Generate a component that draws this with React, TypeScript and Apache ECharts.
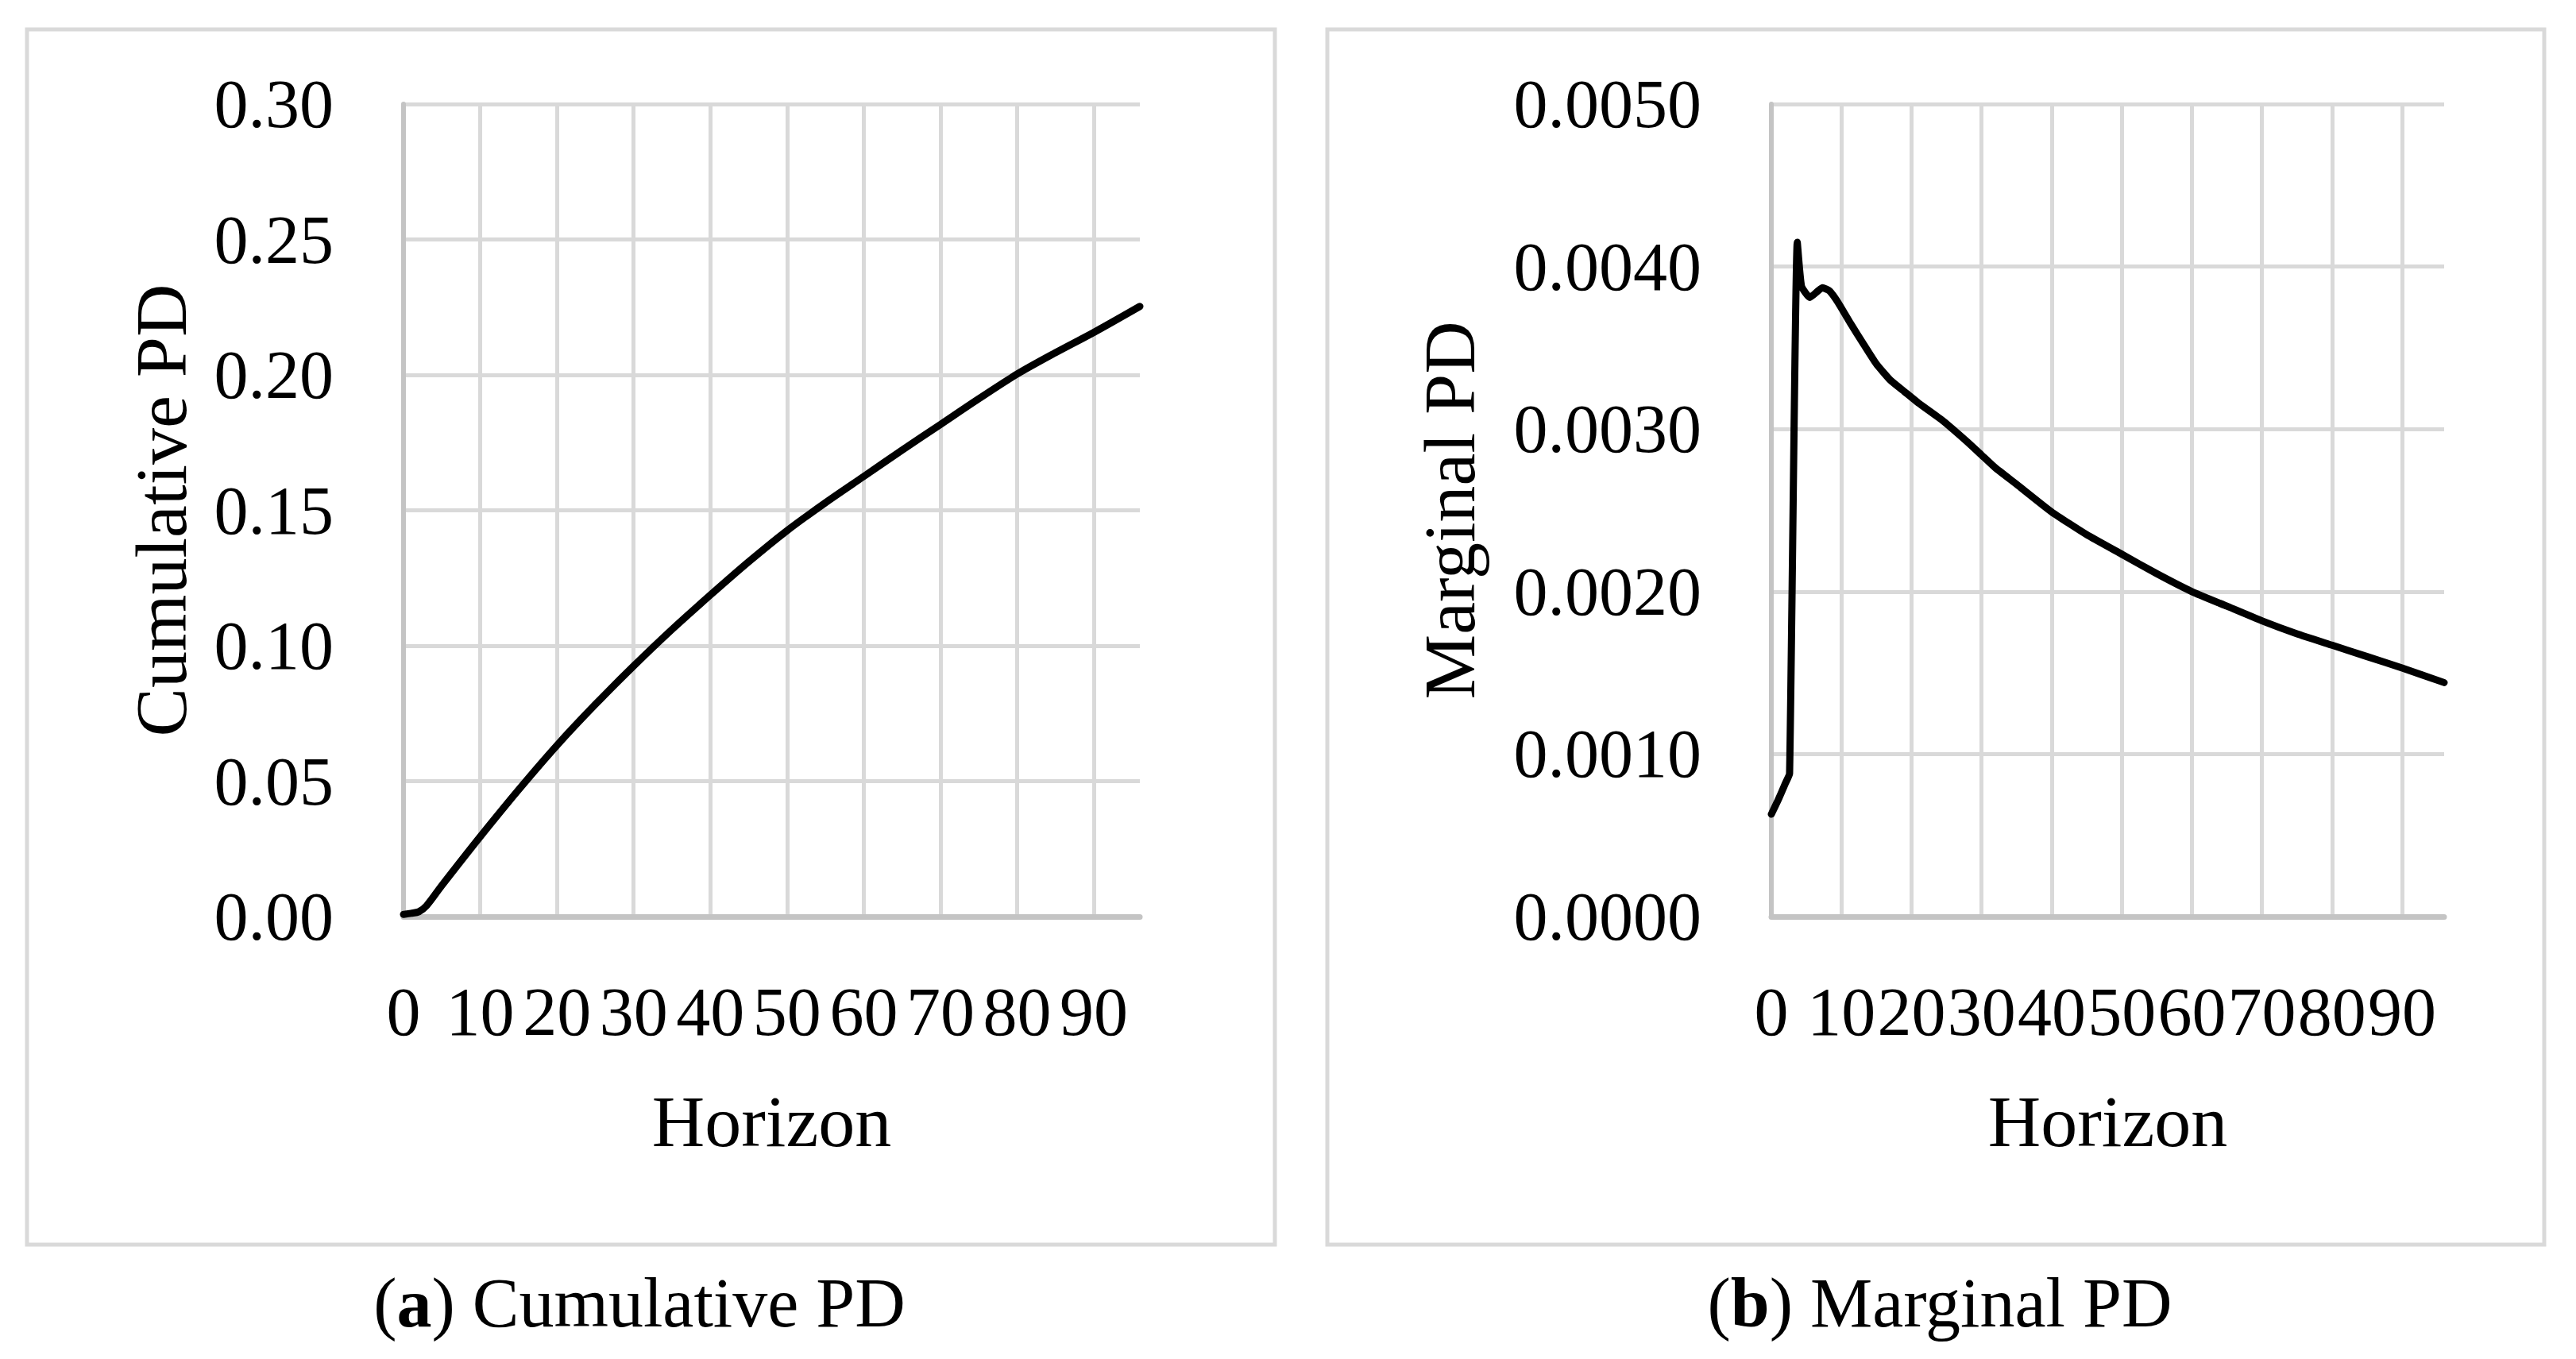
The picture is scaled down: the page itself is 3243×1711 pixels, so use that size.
import React, { useEffect, useRef } from "react";
import * as echarts from "echarts";

// Cumulative PD: [horizon, value]
const cumulativeHorizon = [0, 1, 2, 3, 5, 10, 15, 20, 25, 30, 35, 40, 45, 50, 55, 60, 65, 70, 75, 80, 85, 90, 96];
const cumulativeValues = [0.0008, 0.0012, 0.0018, 0.004, 0.0115, 0.0295, 0.0468, 0.0632, 0.0783, 0.0925, 0.106, 0.1187, 0.131, 0.1425, 0.1528, 0.1625, 0.1722, 0.1817, 0.1912, 0.2003, 0.2082, 0.2157, 0.2253];

// Marginal PD: [horizon, value]
const marginalHorizon = [0, 1, 2, 2.6, 3.7, 4.3, 5.5, 7.3, 8.3, 9.5, 11.3, 13.2, 15, 17, 19, 21, 24.5, 28, 30, 32, 35, 40, 45, 50, 55, 60, 65, 70, 75, 80, 85, 90, 96];
const marginalValues = [0.00063, 0.00072, 0.00082, 0.00088, 0.00415, 0.00388, 0.00381, 0.00387, 0.00385, 0.00378, 0.00365, 0.00352, 0.0034, 0.0033, 0.00323, 0.00316, 0.00305, 0.00292, 0.00284, 0.00276, 0.00266, 0.00249, 0.00235, 0.00223, 0.00211, 0.002, 0.00191, 0.00182, 0.00174, 0.00167, 0.0016, 0.00153, 0.00144];

const xTitle = "Horizon";
const yTitles = ["Cumulative PD", "Marginal PD"];
const captionLetters = ["a", "b"];
const captionTexts = ["Cumulative PD", "Marginal PD"];

const FONT = "'Liberation Serif', 'Times New Roman', serif";
const GRID_COLOR = "#d9d9d9";
const AXIS_COLOR = "#c4c4c4";

function xAxisCfg(gridIndex: number) {
  return {
    type: "value",
    gridIndex,
    min: 0,
    max: 96,
    interval: 10,
    name: xTitle,
    nameLocation: "middle",
    nameGap: 212,
    nameTextStyle: { fontFamily: FONT, fontSize: 92, color: "#000" },
    axisLine: { show: true, lineStyle: { color: AXIS_COLOR, width: 7 } },
    axisTick: { show: false },
    axisLabel: { fontFamily: FONT, fontSize: 86, color: "#000", margin: 77, showMaxLabel: false },
    splitLine: { show: true, showMaxLine: false, lineStyle: { color: GRID_COLOR, width: 5 } },
  };
}

function yAxisCfg(gridIndex: number, max: number, interval: number, digits: number, nameGap: number) {
  return {
    type: "value",
    gridIndex,
    min: 0,
    max,
    interval,
    name: yTitles[gridIndex],
    nameLocation: "middle",
    nameGap,
    nameTextStyle: { fontFamily: FONT, fontSize: 92, color: "#000" },
    axisLine: { show: true, lineStyle: { color: AXIS_COLOR, width: 6 } },
    axisTick: { show: false },
    axisLabel: {
      fontFamily: FONT,
      fontSize: 86,
      color: "#000",
      margin: 88,
      formatter: (v: number) => v.toFixed(digits),
    },
    splitLine: { show: true, lineStyle: { color: GRID_COLOR, width: 5 } },
  };
}

export default function App() {
  const ref = useRef<HTMLDivElement>(null);
  useEffect(() => {
    if (!ref.current) return;
    const chart = echarts.init(ref.current, undefined, { renderer: "svg" });
    const cumData = cumulativeHorizon.map((h, i) => [h, cumulativeValues[i]]);
    const margData = marginalHorizon.map((h, i) => [h, marginalValues[i]]);
    chart.setOption({
      animation: false,
      backgroundColor: "#ffffff",
      grid: [
        { left: 508, top: 131, width: 927, height: 1023 },
        { left: 2230, top: 131, width: 847, height: 1023 },
      ],
      xAxis: [xAxisCfg(0), xAxisCfg(1)],
      yAxis: [yAxisCfg(0, 0.3, 0.05, 2, 259), yAxisCfg(1, 0.005, 0.001, 4, 359)],
      series: [
        {
          type: "line",
          xAxisIndex: 0,
          yAxisIndex: 0,
          data: cumData,
          showSymbol: false,
          smooth: 0.3,
          lineStyle: { color: "#000", width: 9, cap: "round", join: "round" },
        },
        {
          type: "line",
          xAxisIndex: 1,
          yAxisIndex: 1,
          data: margData,
          showSymbol: false,
          smooth: 0.15,
          lineStyle: { color: "#000", width: 9, cap: "round", join: "round" },
        },
      ],
      graphic: [
        {
          type: "rect",
          shape: { x: 34, y: 37, width: 1571, height: 1530 },
          style: { fill: "none", stroke: GRID_COLOR, lineWidth: 5 },
          z: -1,
        },
        {
          type: "rect",
          shape: { x: 1671, y: 37, width: 1532, height: 1530 },
          style: { fill: "none", stroke: GRID_COLOR, lineWidth: 5 },
          z: -1,
        },
        ...[805, 2442].map((cx, i) => ({
          type: "text",
          x: cx,
          y: 1640,
          style: {
            text: `({b|${captionLetters[i]}}) ${captionTexts[i]}`,
            fontFamily: FONT,
            fontSize: 88,
            fill: "#000",
            align: "center",
            verticalAlign: "middle",
            rich: { b: { fontFamily: FONT, fontSize: 88, fontWeight: "bold", fill: "#000" } },
          },
        })),
      ],
    });
    return () => chart.dispose();
  }, []);
  return (
    <div
      ref={ref}
      style={{ position: "absolute", left: 0, top: 0, width: 3243, height: 1711, background: "#fff" }}
    />
  );
}
